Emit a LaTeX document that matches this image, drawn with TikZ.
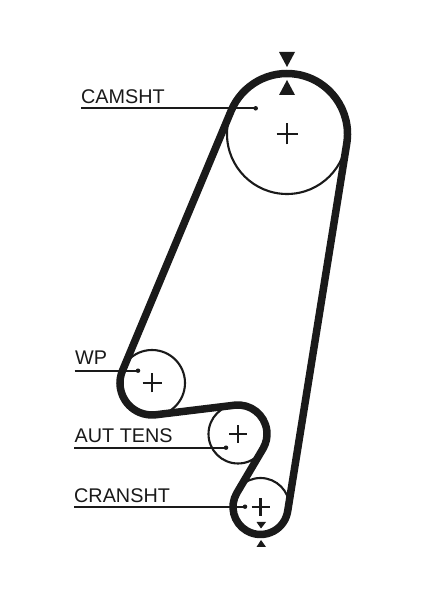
\documentclass[tikz,border=0pt]{standalone}
\usepackage{fontspec}
\setmainfont{Liberation Sans}
\usetikzlibrary{calc}
\definecolor{ink}{HTML}{1A1A1A}
\tikzset{
  pulley/.style={draw=ink,line width=2.1pt,circle,inner sep=0pt,fill=none},
  belt/.style={draw=ink,line width=7.5pt,line join=round},
  leader/.style={draw=ink,line width=2pt},
  tip/.style={fill=ink,circle,inner sep=0pt,minimum size=4.5pt},
  lbl/.style={text=ink,font=\fontsize{19.8pt}{20pt}\selectfont,anchor=base west,inner sep=0pt},
  crossbar/.style={draw=ink,line width=2.6pt},
  timing/.style={fill=ink,draw=none}
}
\begin{document}
\begin{tikzpicture}[x=1pt,y=1pt]
\useasboundingbox[fill=white] (0,0) rectangle (424,600);
% pulley centres
\coordinate (C) at (287,466);
\coordinate (W) at (152,217);
\coordinate (A) at (238,166);
\coordinate (K) at (260.5,93);
% pulleys
\node[pulley,minimum size=120pt] (cam) at (C) {};
\node[pulley,minimum size=66pt] (wp) at (W) {};
\node[pulley,minimum size=59pt] (aut) at (A) {};
\node[pulley,minimum size=58pt] (cran) at (K) {};
% belt
\path[belt] ($(C)+(157.3:60.5pt)$) -- ($(W)+(157.3:32pt)$)
  arc[start angle=157.3,end angle=276.9,radius=32pt]
  -- ($(A)+(96.9:29pt)$)
  arc[start angle=96.9,end angle=-30.6,radius=29pt]
  -- ($(K)+(149.4:27.5pt)$)
  arc[start angle=149.4,end angle=350.87,radius=27.5pt]
  -- ($(C)+(-9.13:60.5pt)$)
  arc[start angle=-9.13,end angle=157.3,radius=60.5pt]
  -- cycle;
% centre crosses
\foreach \c/\h in {C/10.5,W/9.5,A/9,K/9}{
  \draw[crossbar] ($(\c)+(-\h pt,0)$) -- ($(\c)+(\h pt,0)$);
  \draw[crossbar] ($(\c)+(0,-\h pt)$) -- ($(\c)+(0,\h pt)$);
}
% timing marks
\fill[timing] (279,548) -- (295,548) -- (287,533) -- cycle;
\fill[timing] (279,505) -- (295,505) -- (287,520) -- cycle;
\fill[timing] (256.5,78) -- (266,78) -- (261,71.5) -- cycle;
\fill[timing] (256.5,53) -- (266,53) -- (261,60) -- cycle;
% labels
\node[lbl] (tcam) at (81,496) {CAMSHT};
\node[lbl] (twp) at (75,235) {WP};
\node[lbl] (taut) at (74.5,157.3) {AUT TENS};
\node[lbl] (tcran) at (74,97.3) {CRANSHT};
% leaders
\coordinate (la) at (81,491.7);  \node[tip] (da) at (255.7,491.7) {};
\coordinate (lb) at (74.5,229.3); \node[tip] (db) at (138,229.3) {};
\coordinate (lc) at (74,152.3);  \node[tip] (dc) at (226,152.3) {};
\coordinate (ld) at (74,93.3);   \node[tip] (dd) at (245,93.3) {};
\draw[leader] (la) -- (da.center);
\draw[leader] (lb) -- (db.center);
\draw[leader] (lc) -- (dc.center);
\draw[leader] (ld) -- (dd.center);
\end{tikzpicture}
\end{document}
